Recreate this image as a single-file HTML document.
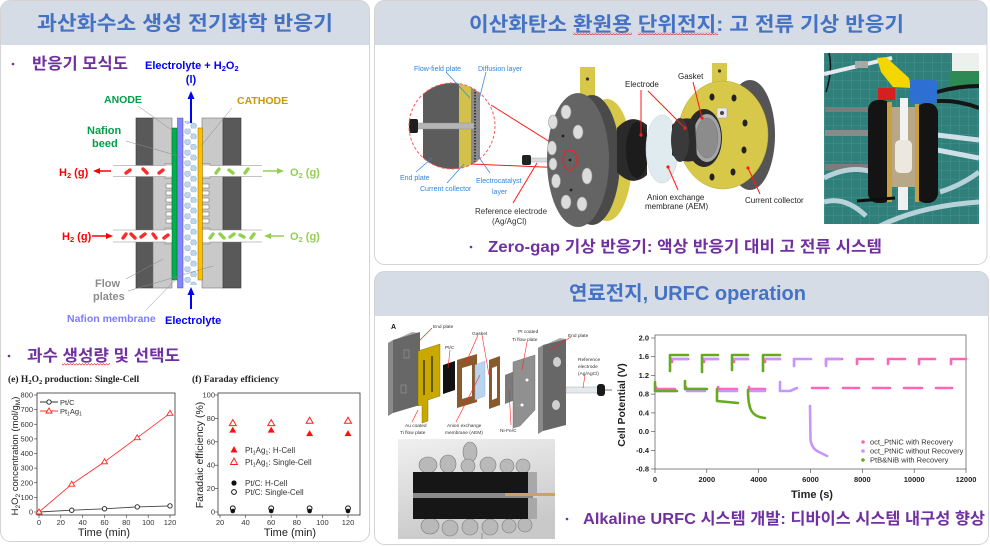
<!DOCTYPE html>
<html><head><meta charset="utf-8">
<style>
html,body{margin:0;padding:0;background:#fff;width:990px;height:546px;overflow:hidden}
svg{display:block}
text{font-family:"Liberation Sans","Noto Sans CJK KR",sans-serif}
.ser{font-family:"Liberation Serif","Noto Serif CJK SC",serif}
</style></head>
<body>
<svg width="990" height="546" viewBox="0 0 990 546" xmlns="http://www.w3.org/2000/svg">
<defs>
 <clipPath id="cl"><rect x="0.5" y="0.5" width="369" height="541" rx="10"/></clipPath>
 <clipPath id="ctr"><rect x="374.5" y="0.5" width="612.5" height="264" rx="10"/></clipPath>
 <clipPath id="cbr"><rect x="374.5" y="271.5" width="614" height="273" rx="10"/></clipPath>
 <clipPath id="mag"><circle cx="452" cy="126" r="43"/></clipPath>
 <clipPath id="ph1"><rect x="824" y="53" width="155" height="171"/></clipPath>
 <clipPath id="ph2"><rect x="398" y="439" width="157" height="100"/></clipPath>
 <pattern id="bub" x="183" y="118" width="15" height="10.6" patternUnits="userSpaceOnUse">
  <circle cx="4.5" cy="2.7" r="2.9" fill="#bcd6ee" stroke="#86a9cf" stroke-width="0.5"/>
  <circle cx="10.6" cy="8" r="2.9" fill="#bcd6ee" stroke="#86a9cf" stroke-width="0.5"/>
  <circle cx="1" cy="7" r="0.4" fill="#5b7fd0"/>
  <circle cx="8" cy="5" r="0.4" fill="#5b7fd0"/>
 </pattern>
 <pattern id="wave" x="0" y="0" width="3" height="3" patternUnits="userSpaceOnUse">
  <path d="M0 2.2 L1.5 0.6 L3 2.2" fill="none" stroke="#e02020" stroke-width="0.6"/>
 </pattern>
 <pattern id="grid" x="824" y="53" width="9" height="9" patternUnits="userSpaceOnUse">
  <path d="M0 0 H9 M0 0 V9" stroke="#5fa6a2" stroke-width="0.5" fill="none"/>
 </pattern>
 <linearGradient id="phbg" x1="0" y1="0" x2="0.3" y2="1">
  <stop offset="0" stop-color="#f0f0f0"/><stop offset="1" stop-color="#c9c9c9"/>
 </linearGradient>
</defs>

<!-- ================= PANELS ================= -->
<g clip-path="url(#cl)"><rect x="0" y="0" width="370" height="546" fill="#fff"/><rect x="0" y="0" width="370" height="45" fill="#d6dce5"/></g>
<rect x="0.5" y="0.5" width="369" height="541" rx="10" fill="none" stroke="#d3d3d3"/>
<g clip-path="url(#ctr)"><rect x="374" y="0" width="616" height="266" fill="#fff"/><rect x="374" y="0" width="616" height="45" fill="#d6dce5"/></g>
<rect x="374.5" y="0.5" width="612.5" height="264" rx="10" fill="none" stroke="#d3d3d3"/>
<g clip-path="url(#cbr)"><rect x="374" y="271" width="616" height="275" fill="#fff"/><rect x="374" y="271" width="616" height="45" fill="#d6dce5"/></g>
<rect x="374.5" y="271.5" width="614" height="273" rx="10" fill="none" stroke="#d3d3d3"/>

<!-- titles -->
<text x="37" y="30" font-size="20" font-weight="bold" fill="#4472c4" textLength="296" lengthAdjust="spacingAndGlyphs">과산화수소 생성 전기화학 반응기</text>
<text x="469" y="31" font-size="20" font-weight="bold" fill="#4472c4" textLength="435" lengthAdjust="spacingAndGlyphs">이산화탄소 환원용 단위전지: 고 전류 기상 반응기</text>
<rect x="573" y="32" width="59" height="3" fill="url(#wave)"/>
<rect x="638" y="32" width="80" height="3" fill="url(#wave)"/>
<text x="569" y="300" font-size="20" font-weight="bold" fill="#4472c4" textLength="237" lengthAdjust="spacingAndGlyphs">연료전지, URFC operation</text>

<!-- bullets -->
<circle cx="13" cy="64" r="1.3" fill="#7030a0"/>
<text x="32" y="69" font-size="16" font-weight="bold" fill="#7030a0" textLength="96" lengthAdjust="spacingAndGlyphs">반응기 모식도</text>
<circle cx="9" cy="356" r="1.3" fill="#7030a0"/>
<text x="27" y="361" font-size="16" font-weight="bold" fill="#7030a0" textLength="153" lengthAdjust="spacingAndGlyphs">과수 생성량 및 선택도</text>
<rect x="62" y="363" width="48" height="3" fill="url(#wave)"/>
<circle cx="471" cy="247" r="1.3" fill="#7030a0"/>
<text x="488" y="252" font-size="16" font-weight="bold" fill="#7030a0" textLength="394" lengthAdjust="spacingAndGlyphs">Zero-gap 기상 반응기: 액상 반응기 대비 고 전류 시스템</text>
<circle cx="567" cy="519" r="1.3" fill="#7030a0"/>
<text x="583" y="524" font-size="16" font-weight="bold" fill="#7030a0" textLength="402" lengthAdjust="spacingAndGlyphs">Alkaline URFC 시스템 개발: 디바이스 시스템 내구성 향상</text>

<!-- ================= LEFT DIAGRAM ================= -->
<g>
 <rect x="136" y="118" width="17" height="170" fill="#595959" stroke="#3a3a3a" stroke-width="0.6"/>
 <rect x="153" y="118" width="19" height="170" fill="#c9c9c9" stroke="#7a7a7a" stroke-width="0.6"/>
 <rect x="202" y="118" width="21" height="170" fill="#c9c9c9" stroke="#7a7a7a" stroke-width="0.6"/>
 <rect x="223" y="118" width="18" height="170" fill="#595959" stroke="#3a3a3a" stroke-width="0.6"/>
 <rect x="113" y="165.5" width="59" height="11" fill="#fff"/>
 <path d="M113 165.5 H165 V163.5 H172 M113 176.5 H165 V178.5 H172" fill="none" stroke="#888" stroke-width="0.6"/>
 <rect x="113" y="230" width="59" height="12" fill="#fff"/>
 <path d="M113 230 H165 V228 H172 M113 242 H165 V244 H172" fill="none" stroke="#888" stroke-width="0.6"/>
 <rect x="202" y="165.5" width="60" height="11" fill="#fff"/>
 <path d="M262 165.5 H210 V163.5 H202 M262 176.5 H210 V178.5 H202" fill="none" stroke="#888" stroke-width="0.6"/>
 <rect x="202" y="230" width="60" height="12" fill="#fff"/>
 <path d="M262 230 H210 V228 H202 M262 242 H210 V244 H202" fill="none" stroke="#888" stroke-width="0.6"/>
 <g fill="#fff" stroke="#666" stroke-width="0.5">
  <rect x="166" y="184" width="6" height="4"/><rect x="166" y="191" width="6" height="4"/><rect x="166" y="198" width="6" height="4"/>
  <rect x="166" y="205" width="6" height="4"/><rect x="166" y="212" width="6" height="4"/><rect x="166" y="219" width="6" height="4"/>
  <rect x="202" y="184" width="7" height="4"/><rect x="202" y="191" width="7" height="4"/><rect x="202" y="198" width="7" height="4"/>
  <rect x="202" y="205" width="7" height="4"/><rect x="202" y="212" width="7" height="4"/><rect x="202" y="219" width="7" height="4"/>
 </g>
 <rect x="183" y="118" width="15" height="170" fill="#fff"/>
 <rect x="183" y="121" width="15" height="164" fill="url(#bub)"/>
 <rect x="172" y="128" width="5" height="152" fill="#00b050" stroke="#1a5c2a" stroke-width="0.5"/>
 <rect x="177.5" y="118" width="5.5" height="170" fill="#8585ff" stroke="#4b4bb0" stroke-width="0.5"/>
 <rect x="198" y="128" width="4.5" height="152" fill="#ffc000" stroke="#8a6a00" stroke-width="0.5"/>
 <g stroke="#ff2a2a" stroke-width="3.4" stroke-linecap="round">
  <line x1="126" y1="173" x2="130" y2="170"/><line x1="143" y1="169" x2="147" y2="173"/><line x1="159" y1="173" x2="163" y2="170"/>
  <line x1="123" y1="238" x2="126" y2="234"/><line x1="131" y1="234" x2="135" y2="238"/><line x1="141" y1="237" x2="145" y2="234"/>
  <line x1="153" y1="234" x2="156" y2="238"/><line x1="164" y1="238" x2="168" y2="235"/>
 </g>
 <g stroke="#92d050" stroke-width="3.4" stroke-linecap="round">
  <line x1="216" y1="173" x2="219" y2="169"/><line x1="229" y1="170" x2="233" y2="173"/><line x1="245" y1="173" x2="248" y2="169"/>
  <line x1="210" y1="238" x2="213" y2="234"/><line x1="220" y1="234" x2="224" y2="238"/><line x1="230" y1="237" x2="234" y2="234"/>
  <line x1="240" y1="235" x2="244" y2="237"/><line x1="251" y1="238" x2="254" y2="234"/>
 </g>
 <line x1="191" y1="123" x2="191" y2="98" stroke="#0000ff" stroke-width="2"/>
 <polygon points="191,91 187.5,99 194.5,99" fill="#0000ff"/>
 <line x1="191" y1="309" x2="191" y2="294" stroke="#0000ff" stroke-width="2"/>
 <polygon points="191,287 187.5,295 194.5,295" fill="#0000ff"/>
 <line x1="111" y1="171" x2="99" y2="171" stroke="#ff0000" stroke-width="1.5"/>
 <polygon points="93,171 100,168 100,174" fill="#ff0000"/>
 <line x1="92" y1="236" x2="107" y2="236" stroke="#ff0000" stroke-width="1.5"/>
 <polygon points="113,236 106,233 106,239" fill="#ff0000"/>
 <line x1="263" y1="171" x2="278" y2="171" stroke="#92d050" stroke-width="1.5"/>
 <polygon points="284,171 277,168 277,174" fill="#92d050"/>
 <line x1="284" y1="236" x2="270" y2="236" stroke="#92d050" stroke-width="1.5"/>
 <polygon points="264,236 271,233 271,239" fill="#92d050"/>
 <g stroke="#8a8a8a" stroke-width="0.5">
  <line x1="138" y1="106" x2="173" y2="131"/><line x1="232" y1="108" x2="201" y2="146"/>
  <line x1="126" y1="141" x2="186" y2="158"/><line x1="126" y1="279" x2="163" y2="259"/>
  <line x1="128" y1="291" x2="213" y2="266"/><line x1="146" y1="310" x2="180" y2="275"/>
 </g>
 <text x="145" y="69" font-size="11" font-weight="bold" fill="#0000ff">Electrolyte + H<tspan font-size="7.5" dy="2">2</tspan><tspan dy="-2">O</tspan><tspan font-size="7.5" dy="2">2</tspan></text>
 <text x="191" y="83" font-size="11" font-weight="bold" fill="#0000ff" text-anchor="middle">(l)</text>
 <text x="104" y="103" font-size="10.5" font-weight="bold" fill="#00a04a">ANODE</text>
 <text x="237" y="104" font-size="10.5" font-weight="bold" fill="#c99a00">CATHODE</text>
 <text x="87" y="134" font-size="11" font-weight="bold" fill="#00a04a">Nafion</text>
 <text x="92" y="147" font-size="11" font-weight="bold" fill="#00a04a">beed</text>
 <text x="95" y="287" font-size="11" font-weight="bold" fill="#8c8c8c">Flow</text>
 <text x="93" y="300" font-size="11" font-weight="bold" fill="#8c8c8c">plates</text>
 <text x="67" y="322" font-size="10.5" font-weight="bold" fill="#7b7bff">Nafion membrane</text>
 <text x="165" y="324" font-size="11" font-weight="bold" fill="#0000ff">Electrolyte</text>
 <text x="59" y="176" font-size="11" font-weight="bold" fill="#ff0000">H<tspan font-size="7.5" dy="2">2</tspan><tspan dy="-2"> (g)</tspan></text>
 <text x="62" y="240" font-size="11" font-weight="bold" fill="#ff0000">H<tspan font-size="7.5" dy="2">2</tspan><tspan dy="-2"> (g)</tspan></text>
 <text x="290" y="176" font-size="11" font-weight="bold" fill="#92d050">O<tspan font-size="7.5" dy="2">2</tspan><tspan dy="-2"> (g)</tspan></text>
 <text x="290" y="240" font-size="11" font-weight="bold" fill="#92d050">O<tspan font-size="7.5" dy="2">2</tspan><tspan dy="-2"> (g)</tspan></text>
</g>

<!-- ================= CHART E ================= -->
<g>
 <text x="8" y="382" class="ser" font-size="9.5" font-weight="bold" fill="#222">(e) H<tspan font-size="6.5" dy="2">2</tspan><tspan dy="-2">O</tspan><tspan font-size="6.5" dy="2">2</tspan><tspan dy="-2"> production: Single-Cell</tspan></text>
 <rect x="37" y="393" width="138" height="122" fill="none" stroke="#333" stroke-width="0.8"/>
 <g stroke="#333" stroke-width="0.6">
  <line x1="34" y1="512" x2="37" y2="512"/><line x1="34" y1="497.4" x2="37" y2="497.4"/><line x1="34" y1="482.75" x2="37" y2="482.75"/>
  <line x1="34" y1="468.1" x2="37" y2="468.1"/><line x1="34" y1="453.5" x2="37" y2="453.5"/><line x1="34" y1="438.9" x2="37" y2="438.9"/>
  <line x1="34" y1="424.25" x2="37" y2="424.25"/><line x1="34" y1="409.6" x2="37" y2="409.6"/><line x1="34" y1="395" x2="37" y2="395"/>
  <line x1="39" y1="515" x2="39" y2="518"/><line x1="60.8" y1="515" x2="60.8" y2="518"/><line x1="82.7" y1="515" x2="82.7" y2="518"/>
  <line x1="104.5" y1="515" x2="104.5" y2="518"/><line x1="126.3" y1="515" x2="126.3" y2="518"/><line x1="148.2" y1="515" x2="148.2" y2="518"/><line x1="170" y1="515" x2="170" y2="518"/>
 </g>
 <g font-size="7.5" fill="#333" text-anchor="end">
  <text x="33" y="514.5">0</text><text x="33" y="500">100</text><text x="33" y="485.3">200</text><text x="33" y="470.6">300</text>
  <text x="33" y="456">400</text><text x="33" y="441.4">500</text><text x="33" y="426.8">600</text><text x="33" y="412.1">700</text><text x="33" y="397.5">800</text>
 </g>
 <g font-size="7.5" fill="#333" text-anchor="middle">
  <text x="39" y="525">0</text><text x="60.8" y="525">20</text><text x="82.7" y="525">40</text><text x="104.5" y="525">60</text>
  <text x="126.3" y="525">80</text><text x="148.2" y="525">100</text><text x="170" y="525">120</text>
 </g>
 <text x="104" y="536" font-size="11" fill="#222" text-anchor="middle">Time (min)</text>
 <text transform="translate(18,456) rotate(-90)" font-size="9.5" fill="#222" text-anchor="middle">H<tspan font-size="6.5" dy="2">2</tspan><tspan dy="-2">O</tspan><tspan font-size="6.5" dy="2">2</tspan><tspan dy="-2"> concentration (mol/g</tspan><tspan font-size="6.5" dy="2">M</tspan><tspan dy="-2">)</tspan></text>
 <polyline points="39,512 71.75,484.2 104.5,461.8 137.25,437.7 170,413.3" fill="none" stroke="#ff3030" stroke-width="0.9"/>
 <polyline points="39,512 71.75,510.2 104.5,508.8 137.25,506.9 170,505.9" fill="none" stroke="#444" stroke-width="0.9"/>
 <g fill="#fff" stroke="#ff2020" stroke-width="0.9">
  <polygon points="39,509 36,514 42,514"/><polygon points="71.75,481.2 68.75,486.2 74.75,486.2"/><polygon points="104.5,458.8 101.5,463.8 107.5,463.8"/>
  <polygon points="137.25,434.7 134.25,439.7 140.25,439.7"/><polygon points="170,410.3 167,415.3 173,415.3"/>
 </g>
 <g fill="#fff" stroke="#222" stroke-width="0.9">
  <circle cx="71.75" cy="510.2" r="2.2"/><circle cx="104.5" cy="508.8" r="2.2"/><circle cx="137.25" cy="506.9" r="2.2"/><circle cx="170" cy="505.9" r="2.2"/>
 </g>
 <line x1="40" y1="402" x2="58" y2="402" stroke="#333" stroke-width="0.9"/>
 <circle cx="49" cy="402" r="2.2" fill="#fff" stroke="#222" stroke-width="0.9"/>
 <text x="60" y="405" font-size="7.5" fill="#333">Pt/C</text>
 <line x1="40" y1="411" x2="58" y2="411" stroke="#ff3030" stroke-width="0.9"/>
 <polygon points="49,408 46,413 52,413" fill="#fff" stroke="#ff2020" stroke-width="0.9"/>
 <text x="60" y="414" font-size="7.5" fill="#333">Pt<tspan font-size="5" dy="1.5">1</tspan><tspan dy="-1.5">Ag</tspan><tspan font-size="5" dy="1.5">1</tspan></text>
</g>

<!-- ================= CHART F ================= -->
<g>
 <text x="192" y="382" class="ser" font-size="9.5" font-weight="bold" fill="#222">(f) Faraday efficiency</text>
 <rect x="218" y="393" width="142" height="122" fill="none" stroke="#333" stroke-width="0.8"/>
 <g stroke="#333" stroke-width="0.6">
  <line x1="215" y1="512" x2="218" y2="512"/><line x1="215" y1="488.6" x2="218" y2="488.6"/><line x1="215" y1="465.2" x2="218" y2="465.2"/>
  <line x1="215" y1="441.8" x2="218" y2="441.8"/><line x1="215" y1="418.4" x2="218" y2="418.4"/><line x1="215" y1="395" x2="218" y2="395"/>
  <line x1="220" y1="515" x2="220" y2="518"/><line x1="245.6" y1="515" x2="245.6" y2="518"/><line x1="271.2" y1="515" x2="271.2" y2="518"/>
  <line x1="296.8" y1="515" x2="296.8" y2="518"/><line x1="322.4" y1="515" x2="322.4" y2="518"/><line x1="348" y1="515" x2="348" y2="518"/>
 </g>
 <g font-size="7.5" fill="#333" text-anchor="end">
  <text x="215" y="514.5">0</text><text x="215" y="491.1">20</text><text x="215" y="467.7">40</text><text x="215" y="444.3">60</text><text x="215" y="420.9">80</text><text x="215" y="397.5">100</text>
 </g>
 <g font-size="7.5" fill="#333" text-anchor="middle">
  <text x="220" y="525">20</text><text x="245.6" y="525">40</text><text x="271.2" y="525">60</text><text x="296.8" y="525">80</text><text x="322.4" y="525">100</text><text x="348" y="525">120</text>
 </g>
 <text x="290" y="536" font-size="11" fill="#222" text-anchor="middle">Time (min)</text>
 <text transform="translate(203,455) rotate(-90)" font-size="10.5" fill="#222" text-anchor="middle">Faradaic efficiency (%)</text>
 <g fill="#fff" stroke="#ff2020" stroke-width="1">
  <polygon points="232.8,419.6 229.3,425.6 236.3,425.6"/><polygon points="271.2,419.6 267.7,425.6 274.7,425.6"/>
  <polygon points="309.6,417.2 306.1,423.2 313.1,423.2"/><polygon points="348,417.2 344.5,423.2 351.5,423.2"/>
 </g>
 <g fill="#ff1010">
  <polygon points="232.8,426.6 229.3,432.6 236.3,432.6"/><polygon points="271.2,426.6 267.7,432.6 274.7,432.6"/>
  <polygon points="309.6,430.1 306.1,436.1 313.1,436.1"/><polygon points="348,430.1 344.5,436.1 351.5,436.1"/>
 </g>
 <g fill="#fff" stroke="#111" stroke-width="1">
  <circle cx="232.8" cy="508.3" r="2.4"/><circle cx="271.2" cy="508.3" r="2.4"/><circle cx="309.6" cy="508.3" r="2.4"/><circle cx="348" cy="508.3" r="2.4"/>
 </g>
 <g fill="#111">
  <circle cx="232.8" cy="511" r="2.3"/><circle cx="271.2" cy="511" r="2.3"/><circle cx="309.6" cy="511" r="2.3"/><circle cx="348" cy="511" r="2.3"/>
 </g>
 <polygon points="234,446 230.5,452.5 237.5,452.5" fill="#ff1010"/>
 <text x="245" y="453" font-size="8" fill="#333">Pt<tspan font-size="5.5" dy="1.5">1</tspan><tspan dy="-1.5">Ag</tspan><tspan font-size="5.5" dy="1.5">1</tspan><tspan dy="-1.5">: H-Cell</tspan></text>
 <polygon points="234,458 230.5,464.5 237.5,464.5" fill="#fff" stroke="#ff2020" stroke-width="1"/>
 <text x="245" y="465" font-size="8" fill="#333">Pt<tspan font-size="5.5" dy="1.5">1</tspan><tspan dy="-1.5">Ag</tspan><tspan font-size="5.5" dy="1.5">1</tspan><tspan dy="-1.5">: Single-Cell</tspan></text>
 <circle cx="234" cy="483" r="2.6" fill="#111"/>
 <text x="245" y="486" font-size="8" fill="#333">Pt/C: H-Cell</text>
 <circle cx="234" cy="492" r="2.4" fill="#fff" stroke="#111" stroke-width="1"/>
 <text x="245" y="495" font-size="8" fill="#333">Pt/C: Single-Cell</text>
</g>

<!-- ================= TOP RIGHT DIAGRAM ================= -->
<g>
 <g clip-path="url(#mag)">
  <rect x="405" y="80" width="95" height="95" fill="#fff"/>
  <rect x="423" y="80" width="36" height="95" fill="#5c5c5c"/>
  <rect x="459" y="80" width="12" height="95" fill="#d2c24c"/>
  <rect x="471" y="80" width="9" height="95" fill="#8a8a8a"/>
  <line x1="475" y1="80" x2="475" y2="175" stroke="#222" stroke-width="1.5" stroke-dasharray="1.5 1.5"/>
  <rect x="416" y="123" width="58" height="6" fill="#b5b5b5" stroke="#888" stroke-width="0.4"/>
  <rect x="409" y="119" width="9" height="14" rx="2" fill="#1e1e1e"/>
 </g>
 <circle cx="452" cy="126" r="43" fill="none" stroke="#ff5a5a" stroke-width="1" stroke-dasharray="3 2"/>
 <g stroke="#ff1a1a" stroke-width="1">
  <line x1="491" y1="105" x2="566" y2="152"/><line x1="471" y1="164" x2="566" y2="168"/>
 </g>
 <g stroke="#2e86de" stroke-width="0.7">
  <line x1="446" y1="72" x2="470" y2="98"/><line x1="486" y1="72" x2="479" y2="100"/>
  <line x1="416" y1="172" x2="432" y2="158"/><line x1="447" y1="183" x2="464" y2="164"/><line x1="490" y1="173" x2="478" y2="156"/>
 </g>
 <g font-size="7" fill="#2e86de">
  <text x="414" y="71">Flow-field plate</text><text x="478" y="71">Diffusion layer</text>
  <text x="400" y="180">End plate</text><text x="420" y="191">Current collector</text>
  <text x="476" y="183">Electrocatalyst</text><text x="492" y="194">layer</text>
 </g>
 <rect x="530" y="158" width="32" height="4" fill="#d8dde0" stroke="#999" stroke-width="0.4"/>
 <rect x="522" y="155" width="9" height="10" rx="2" fill="#222"/>
 <line x1="513" y1="203" x2="537" y2="163" stroke="#ff1a1a" stroke-width="1"/>
 <g font-size="8" fill="#333">
  <text x="475" y="214">Reference electrode</text><text x="492" y="224">(Ag/AgCl)</text>
 </g>
 <rect x="580" y="67" width="15" height="35" fill="#d8c84a"/>
 <circle cx="587.5" cy="79" r="1.6" fill="#333"/>
 <ellipse cx="607" cy="160" rx="25" ry="61" fill="#d8c84a"/>
 <ellipse cx="592" cy="160" rx="28" ry="65" fill="#4a4a4a"/>
 <ellipse cx="578" cy="160" rx="31" ry="67" fill="#646464"/>
 <g fill="#dcdcdc" stroke="#9a9a9a" stroke-width="0.6">
  <ellipse cx="566" cy="112" rx="5" ry="7"/><ellipse cx="553" cy="122" rx="4.5" ry="7"/><ellipse cx="578" cy="132" rx="5" ry="7"/>
  <ellipse cx="552" cy="148" rx="4.5" ry="7"/><ellipse cx="587" cy="176" rx="5" ry="8"/><ellipse cx="556" cy="181" rx="4.5" ry="7"/>
  <ellipse cx="566" cy="202" rx="5" ry="7"/><ellipse cx="582" cy="204" rx="5" ry="7"/><ellipse cx="553" cy="164" rx="4" ry="6"/>
 </g>
 <circle cx="563" cy="136" r="1.4" fill="#222"/><circle cx="571" cy="190" r="1.4" fill="#222"/><circle cx="570" cy="160" r="1.4" fill="#222"/>
 <ellipse cx="570" cy="160" rx="7" ry="10" fill="none" stroke="#ff1a1a" stroke-width="1"/>
 <path d="M617 128 Q632 112 647 125 L647 175 Q632 188 617 172 Z" fill="#2a2a2a"/>
 <ellipse cx="637" cy="150" rx="11" ry="28" fill="#1c1c1c"/>
 <ellipse cx="662" cy="149" rx="16" ry="34" fill="#e0ebf0" stroke="#c8d6de" stroke-width="0.6"/>
 <rect x="712" y="63" width="15" height="26" fill="#d8c84a"/>
 <circle cx="719.5" cy="71" r="1.6" fill="#333"/>
 <ellipse cx="750" cy="135" rx="25" ry="55" fill="#555"/>
 <ellipse cx="723" cy="135" rx="45" ry="54" fill="#d8c84a" stroke="#b8a838" stroke-width="0.5"/>
 <g fill="#222">
  <ellipse cx="712" cy="97" rx="2.5" ry="3.5"/><ellipse cx="734" cy="98" rx="2.5" ry="3.5"/><ellipse cx="745" cy="123" rx="2.5" ry="3.5"/>
  <ellipse cx="744" cy="150" rx="2.5" ry="3.5"/><ellipse cx="733" cy="172" rx="2.5" ry="3.5"/><ellipse cx="712" cy="177" rx="2.5" ry="3.5"/>
 </g>
 <rect x="717" y="108" width="10" height="10" fill="#e8e8e8" stroke="#999" stroke-width="0.4"/>
 <circle cx="722" cy="113" r="2" fill="#444"/>
 <ellipse cx="704" cy="138" rx="18" ry="29" fill="#2a2a2a"/>
 <ellipse cx="707" cy="138" rx="14" ry="24" fill="#a5a5a5"/>
 <ellipse cx="707" cy="138" rx="11" ry="20" fill="#8c8c8c" stroke="#777" stroke-width="0.5"/>
 <path d="M672 125 Q682 115 695 120 L697 160 Q683 165 672 155 Z" fill="#2c2c2c"/>
 <ellipse cx="680" cy="140" rx="9" ry="22" fill="#3a3a3a"/>
 <g stroke="#ff1a1a" stroke-width="1">
  <line x1="641" y1="90" x2="641" y2="135"/><line x1="648" y1="91" x2="685" y2="128"/>
  <line x1="693" y1="82" x2="702" y2="118"/><line x1="678" y1="190" x2="668" y2="167"/>
  <line x1="760" y1="194" x2="748" y2="168"/>
 </g>
 <circle cx="641" cy="135" r="1.6" fill="#ff1a1a"/><circle cx="685" cy="128" r="1.6" fill="#ff1a1a"/>
 <circle cx="702" cy="118" r="1.6" fill="#ff1a1a"/><circle cx="668" cy="167" r="1.6" fill="#ff1a1a"/><circle cx="748" cy="168" r="1.6" fill="#ff1a1a"/>
 <g font-size="8" fill="#222">
  <text x="625" y="87">Electrode</text><text x="678" y="79">Gasket</text>
  <text x="647" y="200">Anion exchange</text><text x="645" y="209">membrane (AEM)</text>
  <text x="745" y="203">Current collector</text>
 </g>
</g>

<!-- top right photo -->
<g clip-path="url(#ph1)">
 <rect x="824" y="53" width="155" height="171" fill="#2f7f7b"/>
 <rect x="824" y="53" width="155" height="171" fill="url(#grid)"/>
 <path d="M829 53 Q833 70 826 92" stroke="#111" stroke-width="1.5" fill="none"/>
 <path d="M824 74 L892 58" stroke="#e6eaee" stroke-width="4"/>
 <rect x="855" y="61" width="13" height="7" fill="#a8a8a8"/>
 <rect x="952" y="53" width="27" height="20" fill="#eef0ee"/>
 <rect x="950" y="71" width="29" height="17" fill="#2e8a55"/>
 <path d="M937 92 Q958 86 979 86 M937 101 Q958 100 979 108" stroke="#151515" stroke-width="4" fill="none"/>
 <path d="M937 135 L979 140 M937 150 L979 158" stroke="#cfe0e8" stroke-width="5"/>
 <rect x="825" y="107" width="45" height="5" fill="#7c7c7c"/>
 <rect x="825" y="130" width="45" height="6" fill="#8a8a8a"/>
 <rect x="825" y="164" width="45" height="6" fill="#7c7c7c"/>
 <path d="M824 178 Q850 165 872 172 M824 202 Q845 196 866 216 M880 226 Q920 206 979 202 M940 192 Q962 185 979 172" stroke="#cfe0ea" stroke-width="5" fill="none" opacity="0.85"/>
 <rect x="868" y="100" width="24" height="103" rx="10" fill="#141414"/>
 <rect x="916" y="103" width="22" height="100" rx="10" fill="#141414"/>
 <rect x="892" y="107" width="24" height="80" fill="#b8a888"/>
 <rect x="887" y="102" width="5" height="100" fill="#c9a040"/>
 <rect x="915" y="104" width="4" height="98" fill="#c9a040"/>
 <rect x="895" y="140" width="17" height="33" rx="5" fill="#ece8e0"/>
 <rect x="900" y="98" width="8" height="42" fill="#f2f2f2"/>
 <rect x="898" y="187" width="10" height="23" fill="#f0f0f0"/>
 <polygon points="877,58 886,57 909,78 911,88 893,87 881,72" fill="#f4d600"/>
 <rect x="878" y="88" width="17" height="12" fill="#d42020"/>
 <rect x="910" y="80" width="27" height="23" rx="3" fill="#2d6fd2"/>
 <path d="M857 201 L895 198" stroke="#0e0e0e" stroke-width="3"/>
</g>

<!-- ================= URFC EXPLODED ================= -->
<g>
 <text x="391" y="329" font-size="7" font-weight="bold" fill="#111">A</text>
 <polygon points="388,343 393,340 393,413 388,416" fill="#8a8a8a"/>
 <polygon points="388,343 412,332 419,333 393,340" fill="#aaa"/>
 <polygon points="393,340 420,332 420,405 393,413" fill="#676767"/>
 <rect x="404" y="350" width="5" height="8" fill="none" stroke="#999" stroke-width="0.6"/>
 <rect x="401" y="385" width="5" height="8" fill="none" stroke="#999" stroke-width="0.6"/>
 <polygon points="418,351 440,344 440,396 428,400 428,421 422,423 422,405 418,406" fill="#c9a800" stroke="#7a6400" stroke-width="0.4"/>
 <path d="M424 360 V395 M432 356 V392" stroke="#222" stroke-width="1.2"/>
 <polygon points="443,365 455,361 455,390 443,394" fill="#111"/>
 <polygon points="457,360 477,354 477,402 457,408" fill="#8a5a2c"/>
 <polygon points="462,368 472,365 472,396 462,399" fill="#fff"/>
 <polygon points="475,365 485,361 485,396 475,400" fill="#b8d4ee" stroke="#8fb0d0" stroke-width="0.4"/>
 <polygon points="489,360 500,356 500,405 489,409" fill="#8a5a2c"/>
 <polygon points="492,368 497,366 497,398 492,400" fill="#fff"/>
 <polygon points="505,375 515,371 515,400 505,404" fill="#7a7a7a"/>
 <polygon points="513,362 535,355 535,410 520,426 513,428" fill="#909090" stroke="#666" stroke-width="0.4"/>
 <circle cx="527" cy="380" r="1.5" fill="#fff"/><circle cx="522" cy="405" r="1.5" fill="#fff"/>
 <polygon points="538,348 543,345 543,431 538,434" fill="#8a8a8a"/>
 <polygon points="538,348 560,338 566,339 543,345" fill="#aaa"/>
 <polygon points="543,345 566,339 566,425 543,431" fill="#676767"/>
 <ellipse cx="557" cy="362" rx="4" ry="5" fill="#d0d0d0"/><ellipse cx="556" cy="405" rx="4" ry="5" fill="#d0d0d0"/>
 <rect x="566" y="387" width="32" height="6" fill="#e4eaee" stroke="#999" stroke-width="0.4"/>
 <rect x="597" y="384" width="8" height="12" rx="3" fill="#1a1a1a"/>
 <line x1="605" y1="390" x2="612" y2="390" stroke="#555" stroke-width="0.8"/>
 <g stroke="#ff2020" stroke-width="0.6">
  <line x1="432" y1="328" x2="415" y2="345"/><line x1="450" y1="350" x2="448" y2="368"/><line x1="478" y1="335" x2="465" y2="365"/>
  <line x1="482" y1="335" x2="489" y2="375"/><line x1="527" y1="342" x2="522" y2="370"/><line x1="571" y1="337" x2="550" y2="350"/>
  <line x1="585" y1="375" x2="583" y2="388"/><line x1="412" y1="422" x2="418" y2="410"/><line x1="456" y1="422" x2="480" y2="375"/>
  <line x1="511" y1="425" x2="509" y2="390"/>
 </g>
 <g font-size="4.8" fill="#333">
  <text x="433" y="328">End plate</text><text x="445" y="349">Pt/C</text><text x="472" y="335">Gasket</text>
  <text x="518" y="333">Pt coated</text><text x="512" y="341">Ti flow plate</text><text x="568" y="337">End plate</text>
  <text x="578" y="361">Reference</text><text x="578" y="368">electrode</text><text x="578" y="375">(Ag/AgCl)</text>
  <text x="405" y="427">Au coated</text><text x="400" y="434">Ti flow plate</text>
  <text x="447" y="427">Anion exchange</text><text x="445" y="434">membrane (AEM)</text><text x="500" y="432">Ni-Fe/C</text>
 </g>
</g>

<!-- bottom-left photo -->
<g clip-path="url(#ph2)">
 <rect x="398" y="439" width="157" height="100" fill="url(#phbg)"/>
 <g fill="#b9b9b9" stroke="#7a7a7a" stroke-width="0.6">
  <ellipse cx="470" cy="452" rx="7" ry="10"/>
  <ellipse cx="428" cy="465" rx="9" ry="8"/><ellipse cx="448" cy="464" rx="8" ry="9"/><ellipse cx="468" cy="466" rx="7" ry="7"/>
  <ellipse cx="488" cy="465" rx="8" ry="8"/><ellipse cx="507" cy="466" rx="7" ry="7"/><ellipse cx="523" cy="466" rx="7" ry="7"/>
  <ellipse cx="430" cy="526" rx="9" ry="8"/><ellipse cx="450" cy="528" rx="8" ry="8"/><ellipse cx="470" cy="527" rx="8" ry="8"/>
  <ellipse cx="490" cy="527" rx="8" ry="8"/><ellipse cx="509" cy="526" rx="7" ry="7"/><ellipse cx="525" cy="525" rx="7" ry="7"/>
 </g>
 <rect x="413" y="492" width="120" height="7" fill="#8a8a8a"/>
 <rect x="413" y="472" width="118" height="21" fill="#161616"/>
 <rect x="413" y="498" width="118" height="21" fill="#161616"/>
 <rect x="528" y="472" width="9" height="21" fill="#a8a8a8"/>
 <rect x="528" y="498" width="9" height="21" fill="#a8a8a8"/>
 <rect x="505" y="493" width="51" height="3" fill="#c8a266"/>
 <line x1="482" y1="533" x2="482" y2="540" stroke="#888" stroke-width="0.8"/>
</g>

<!-- ================= URFC CHART ================= -->
<g>
 <rect x="655" y="335" width="311" height="134" fill="none" stroke="#666" stroke-width="0.8"/>
 <g stroke="#444" stroke-width="0.6">
  <line x1="651" y1="338" x2="655" y2="338"/><line x1="651" y1="356.7" x2="655" y2="356.7"/><line x1="651" y1="375.4" x2="655" y2="375.4"/>
  <line x1="651" y1="394.1" x2="655" y2="394.1"/><line x1="651" y1="412.9" x2="655" y2="412.9"/><line x1="651" y1="431.6" x2="655" y2="431.6"/>
  <line x1="651" y1="450.3" x2="655" y2="450.3"/><line x1="651" y1="469" x2="655" y2="469"/>
  <line x1="655" y1="469" x2="655" y2="473"/><line x1="706.8" y1="469" x2="706.8" y2="473"/><line x1="758.7" y1="469" x2="758.7" y2="473"/>
  <line x1="810.5" y1="469" x2="810.5" y2="473"/><line x1="862.3" y1="469" x2="862.3" y2="473"/><line x1="914.2" y1="469" x2="914.2" y2="473"/><line x1="966" y1="469" x2="966" y2="473"/>
 </g>
 <g font-size="7.5" font-weight="bold" fill="#222" text-anchor="end">
  <text x="649" y="340.5">2.0</text><text x="649" y="359.2">1.6</text><text x="649" y="377.9">1.2</text><text x="649" y="396.6">0.8</text>
  <text x="649" y="415.4">0.4</text><text x="649" y="434.1">0.0</text><text x="649" y="452.8">-0.4</text><text x="649" y="471.5">-0.8</text>
 </g>
 <g font-size="7.5" font-weight="bold" fill="#222" text-anchor="middle">
  <text x="655" y="482">0</text><text x="706.8" y="482">2000</text><text x="758.7" y="482">4000</text><text x="810.5" y="482">6000</text>
  <text x="862.3" y="482">8000</text><text x="914.2" y="482">10000</text><text x="966" y="482">12000</text>
 </g>
 <text x="812" y="498" font-size="11" font-weight="bold" fill="#222" text-anchor="middle">Time (s)</text>
 <text transform="translate(625,405) rotate(-90)" font-size="10.5" font-weight="bold" fill="#222" text-anchor="middle">Cell Potential (V)</text>
 <g fill="none" stroke="#ff66b8" stroke-width="2.6" stroke-linecap="round" stroke-linejoin="round">
  <path d="M672 362 V359 H688 M704 362 V359 H718 M734 362 V359 H748 M765 362 V359 H780 M826 364 V359 H842 M857 364 V359 H873 M888 364 V359 H905 M919 364 V359 H935 M951 364 V359 H966"/>
  <path d="M656 387 V389 H675 M686 387 V389 H705 M718 387 V389 H737 M749 387 V389 H765 M812 388 H828 M843 388 H859 M873 388 H890 M904 388 H922 M936 388 H952"/>
 </g>
 <g fill="none" stroke="#c994ff" stroke-width="2.6" stroke-linecap="round" stroke-linejoin="round">
  <path d="M673 359 H687 M705 359 H718 M735 359 H748 M766 359 H780 M794 366 V359 H811 M826 366 V359 H840"/>
  <path d="M657 391 H675 M687 391 H705 M719 391 H737 M750 391 H765 M780 382 V391 H790 L797 388"/>
  <path d="M810 406 L810.5 440 Q812 449 819 452 L827 456"/>
 </g>
 <g fill="none" stroke="#66aa22" stroke-width="2.6" stroke-linecap="round" stroke-linejoin="round">
  <path d="M670 371 V355 H688 M702 372 V355 H718 M732 370 V355 H748 M763 371 V355 H780"/>
  <path d="M655 382 V391 H677 M685 381 V389 H707 M717 389 V401 L738 403 M748 390 C748 410 752 417 765 418"/>
 </g>
 <circle cx="863" cy="442" r="1.8" fill="#ff66b8"/>
 <circle cx="863" cy="451" r="1.8" fill="#c994ff"/>
 <circle cx="863" cy="460" r="1.8" fill="#66aa22"/>
 <g font-size="7.5" fill="#333">
  <text x="870" y="444.5">oct_PtNiC with Recovery</text>
  <text x="870" y="453.5">oct_PtNiC without Recovery</text>
  <text x="870" y="462.5">PtB&amp;NiB with Recovery</text>
 </g>
</g>
</svg>
</body></html>
